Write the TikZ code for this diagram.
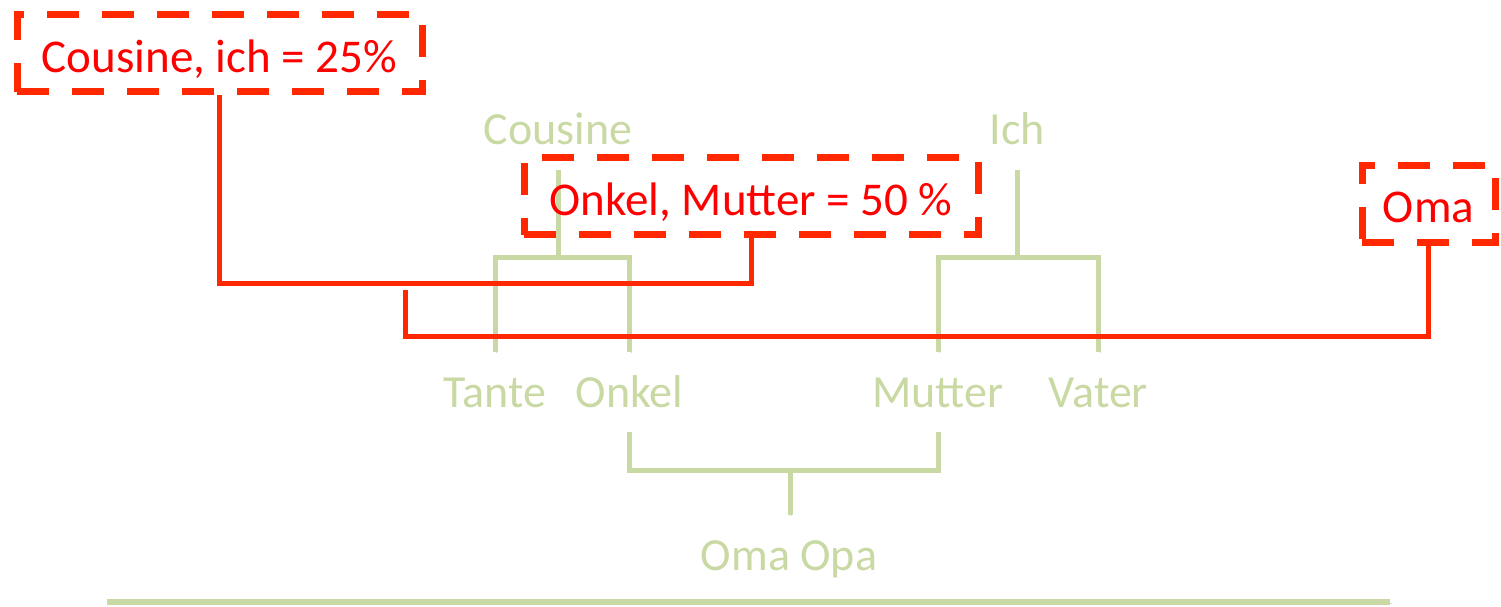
\documentclass[tikz,border=0pt]{standalone}
\usepackage{fontspec}
\setmainfont{Carlito}
\usetikzlibrary{positioning}
\definecolor{leaf}{RGB}{200,217,163}
\definecolor{hotred}{RGB}{255,40,0}
\definecolor{redtext}{RGB}{255,0,0}

\begin{document}
\begin{tikzpicture}[x=1pt,y=-1pt,
  gen/.style={text=leaf,font=\fontsize{46}{50}\selectfont,inner xsep=0pt,
    inner ysep=25pt,text height=30pt,text depth=0pt},
  tree/.style={draw=leaf,line width=5pt,
    preaction={draw=black!15,transform canvas={shift={(1.5pt,-1.5pt)}}}},
  flag/.style={draw=hotred,line width=7pt,dash pattern=on 32pt off 23pt,
    text=redtext,font=\fontsize{47}{50}\selectfont,inner sep=0pt,
    text height=38pt,text depth=0pt},
  link/.style={draw=hotred,line width=5pt,
    preaction={draw=black!15,transform canvas={shift={(1.5pt,-1.5pt)}}}}]
  \useasboundingbox (0,0) rectangle (1501,607);
  % family
  \node[gen,anchor=base] (cousine) at (558,145) {Cousine};
  \node[gen,anchor=base] (ich) at (1017,145) {Ich};
  \node[gen,anchor=base] (tante) at (495,407) {Tante};
  \node[gen] (onkel) [right=29pt of tante] {Onkel};
  \node[gen,anchor=base] (mutter) at (938,407) {Mutter};
  \node[gen] (vater) [right=45pt of mutter] {Vater};
  \node[gen,anchor=base] (omaopa) at (789,570) {Oma Opa};
  \coordinate (cj) at (558,257.5);
  \coordinate (ij) at (1017,257.5);
  \coordinate (oj) at (790,470);
  \draw[tree] (tante.north) |- (cj) -| (onkel.north);
  \draw[tree] (cj) -- (cousine.south);
  \draw[tree] (mutter.north) |- (ij) -| (vater.north);
  \draw[tree] (ij) -- (ich.south);
  \draw[tree] (onkel.south) |- (oj) -| (mutter.south);
  \draw[tree] (oj) -- (oj |- omaopa.north);
  \coordinate (g1) at (107,602);
  \coordinate (g2) at (1390,602);
  \draw[tree,line width=6pt] (g1) -- (g2);
  %
  % degrees of relationship
  \node[flag,minimum width=405pt,minimum height=77pt] (c25) at (219.5,53.5) {Cousine, ich = 25\%};
  \node[flag,minimum width=454pt,minimum height=77pt] (o50) at (751,196) {Onkel, Mutter = 50 \%};
  \node[flag,minimum width=133pt,minimum height=77pt] (oma) at (1428.5,203.5) {Oma};
  \coordinate (r1) at (219.5,283.5);
  \coordinate (r2) at (405,290);
  \coordinate (r3) at (405,336.5);
  \draw[link] (c25.south) -- (r1) -| (o50.south);
  \draw[link] (r2) -- (r3) -| (oma.south);
\end{tikzpicture}
\end{document}
